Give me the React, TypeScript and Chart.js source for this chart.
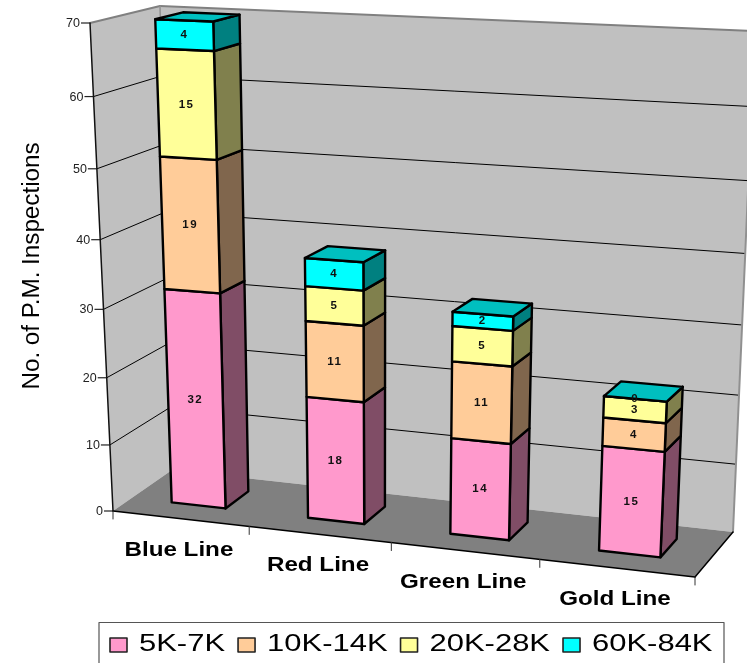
import React, { useEffect, useRef } from "react";
import { Chart, registerables } from "chart.js";

Chart.register(...registerables);

// ---- data ----
const categories = ["Blue Line", "Red Line", "Green Line", "Gold Line"];
const series5to7 = [32, 18, 14, 15];
const series10to14 = [19, 11, 11, 4];
const series20to28 = [15, 5, 5, 3];
const series60to84 = [4, 4, 2, 0];
const seriesNames = ["5K-7K", "10K-14K", "20K-28K", "60K-84K"];
const seriesColors = ["#FF99CC", "#FFCC99", "#FFFF99", "#00FFFF"];
const sideColors = ["#804D66", "#80664D", "#80804D", "#008080"];
const topColor = "#00BFBF";
const axisTitle = "No. of P.M. Inspections";

// ---- 3D box of the plot: corners on the screen ----
type Pt = [number, number];
const FRONT_BOTTOM_LEFT: Pt = [113, 511];
const FRONT_BOTTOM_RIGHT: Pt = [695, 577];
const BACK_BOTTOM_LEFT: Pt = [172, 470];
const BACK_BOTTOM_RIGHT: Pt = [733, 532];
const FRONT_TOP_LEFT: Pt = [90, 23];
const FRONT_TOP_RIGHT: Pt = [721, 47];
const BACK_TOP_LEFT: Pt = [160, 6];
const BACK_TOP_RIGHT: Pt = [755, 31];
const PERSPECTIVE_U = 1.091;
const PERSPECTIVE_V = 1.065;
const BAR_DEPTH_FRONT = 0.32;
const BAR_DEPTH_BACK = 0.73;

const warp = (t: number, k: number) => t / (t + k * (1 - t));
const mix = (a: Pt, b: Pt, t: number): Pt => [a[0] + (b[0] - a[0]) * t, a[1] + (b[1] - a[1]) * t];

function project(u: number, v: number, d: number): Pt {
  const uu = warp(u, PERSPECTIVE_U);
  const vv = warp(v, PERSPECTIVE_V);
  const bottom = mix(
    mix(FRONT_BOTTOM_LEFT, FRONT_BOTTOM_RIGHT, uu),
    mix(BACK_BOTTOM_LEFT, BACK_BOTTOM_RIGHT, uu),
    d
  );
  const top = mix(
    mix(FRONT_TOP_LEFT, FRONT_TOP_RIGHT, uu),
    mix(BACK_TOP_LEFT, BACK_TOP_RIGHT, uu),
    d
  );
  return mix(bottom, top, vv);
}

function poly(ctx: CanvasRenderingContext2D, pts: Pt[], fill: string | null, stroke: string | null, lw = 2.4) {
  ctx.beginPath();
  pts.forEach((p, i) => (i ? ctx.lineTo(p[0], p[1]) : ctx.moveTo(p[0], p[1])));
  ctx.closePath();
  if (fill) {
    ctx.fillStyle = fill;
    ctx.fill();
  }
  if (stroke) {
    ctx.strokeStyle = stroke;
    ctx.lineWidth = lw;
    ctx.lineJoin = "round";
    ctx.stroke();
  }
}

function line(ctx: CanvasRenderingContext2D, a: Pt, b: Pt, color: string, lw: number) {
  ctx.beginPath();
  ctx.moveTo(a[0], a[1]);
  ctx.lineTo(b[0], b[1]);
  ctx.strokeStyle = color;
  ctx.lineWidth = lw;
  ctx.stroke();
}

function stretchedText(
  ctx: CanvasRenderingContext2D,
  text: string,
  x: number,
  y: number,
  font: string,
  sx: number,
  align: CanvasTextAlign
) {
  ctx.save();
  ctx.font = font;
  ctx.fillStyle = "#000";
  ctx.textAlign = align;
  ctx.textBaseline = "middle";
  ctx.translate(x, y);
  ctx.scale(sx, 1);
  ctx.fillText(text, 0, 0);
  ctx.restore();
}

const box3dPlugin = {
  id: "box3d",
  beforeDatasetsDraw(chart: any) {
    const ctx: CanvasRenderingContext2D = chart.ctx;
    const area = chart.chartArea;
    const xs = chart.scales.x;
    const ys = chart.scales.y;
    const toU = (px: number) => (px - area.left) / (area.right - area.left);
    const toV = (py: number) => (area.bottom - py) / (area.bottom - area.top);

    ctx.save();
    // walls and floor
    poly(ctx, [project(0, 0, 0), project(0, 1, 0), project(0, 1, 1), project(0, 0, 1)], "#C0C0C0", null);
    poly(ctx, [project(0, 0, 1), project(0, 1, 1), project(1, 1, 1), project(1, 0, 1)], "#C0C0C0", null);
    poly(ctx, [project(0, 0, 0), project(1, 0, 0), project(1, 0, 1), project(0, 0, 1)], "#808080", null);

    // gridlines and value axis
    const yTicks = ys.ticks.map((t: any) => t.value);
    yTicks.forEach((value: number) => {
      const v = toV(ys.getPixelForValue(value));
      if (value > 0 && value < ys.max) {
        line(ctx, project(0, v, 0), project(0, v, 1), "#000", 1);
        line(ctx, project(0, v, 1), project(1, v, 1), "#000", 1);
      }
      const p = project(0, v, 0);
      line(ctx, [p[0] - 9, p[1]], p, "#222", 1.2);
      ctx.font = "12.5px 'Liberation Sans'";
      ctx.fillStyle = "#222";
      ctx.textAlign = "right";
      ctx.textBaseline = "middle";
      ctx.fillText(String(value), p[0] - 10, p[1] + 0.5);
    });

    // grey outline of the walls
    ctx.lineCap = "round";
    line(ctx, project(0, 1, 0), project(0, 1, 1), "#808080", 2);
    line(ctx, project(0, 1, 1), project(1, 1, 1), "#808080", 2);
    line(ctx, project(0, 1, 1), project(0, 0, 1), "#909090", 1.5);
    line(ctx, project(1, 1, 1), project(1, 0, 1), "#909090", 2);

    // axis edges
    line(ctx, project(0, 0, 0), project(0, 1, 0), "#111", 1.5);
    line(ctx, project(0, 0, 0), project(1, 0, 0), "#000", 1.5);
    line(ctx, project(1, 0, 0), project(1, 0, 1), "#000", 1.5);

    // category ticks and labels
    const step = xs.getPixelForValue(1) - xs.getPixelForValue(0);
    const first = xs.getPixelForValue(0) - step / 2;
    for (let i = 0; i <= categories.length; i++) {
      const p = project(toU(first + step * i), 0, 0);
      line(ctx, p, [p[0], p[1] + 8], "#333", 1);
    }
    categories.forEach((name, i) => {
      const p = project(toU(xs.getPixelForValue(i)), 0, 0);
      stretchedText(ctx, name, p[0] - 1.5, p[1] + 31.5, "bold 20px 'Liberation Sans'", 1.21, "center");
    });

    // stacked boxes, taken from the bar elements laid out by Chart.js
    const count = chart.data.datasets.length;
    categories.forEach((_, c) => {
      for (let s = 0; s < count; s++) {
        const el = chart.getDatasetMeta(s).data[c];
        const u0 = toU(el.x - el.width / 2);
        const u1 = toU(el.x + el.width / 2);
        const v0 = toV(el.base);
        const v1 = toV(el.y);
        const df = BAR_DEPTH_FRONT;
        const db = BAR_DEPTH_BACK;
        poly(ctx, [project(u1, v0, df), project(u1, v1, df), project(u1, v1, db), project(u1, v0, db)], sideColors[s], "#000");
        poly(ctx, [project(u0, v0, df), project(u1, v0, df), project(u1, v1, df), project(u0, v1, df)], seriesColors[s], "#000");
        if (s === count - 1) {
          poly(ctx, [project(u0, v1, df), project(u1, v1, df), project(u1, v1, db), project(u0, v1, db)], topColor, "#000");
        }
      }
      for (let s = 0; s < count; s++) {
        const el = chart.getDatasetMeta(s).data[c];
        const p = project(toU(el.x), (toV(el.base) + toV(el.y)) / 2, BAR_DEPTH_FRONT);
        ctx.font = "bold 11.5px 'Liberation Sans'";
        (ctx as any).letterSpacing = "1.5px";
        ctx.fillStyle = "#111";
        ctx.textAlign = "center";
        ctx.textBaseline = "middle";
        ctx.fillText(String(chart.data.datasets[s].data[c]), p[0], p[1]);
        (ctx as any).letterSpacing = "0px";
      }
    });

    // axis title
    ctx.save();
    ctx.translate(33, 266);
    ctx.rotate(-Math.PI / 2);
    ctx.scale(1.03, 1);
    ctx.font = "23.5px 'Liberation Sans'";
    ctx.fillStyle = "#000";
    ctx.textAlign = "center";
    ctx.textBaseline = "middle";
    ctx.fillText(axisTitle, 0, 0);
    ctx.restore();

    // legend
    ctx.strokeStyle = "#555";
    ctx.lineWidth = 1.2;
    ctx.strokeRect(99, 622.5, 625, 50);
    let x = 110;
    const font = "24px 'Liberation Sans'";
    chart.data.datasets.forEach((ds: any, s: number) => {
      poly(ctx, [[x, 638], [x + 17, 638], [x + 17, 652], [x, 652]], seriesColors[s], "#222", 1.6);
      ctx.font = font;
      const w = ctx.measureText(ds.label).width * 1.29;
      stretchedText(ctx, ds.label, x + 29, 644.5, font, 1.29, "left");
      x += 29 + w + 13;
    });
    ctx.restore();
    return false; // the marks are drawn above in 3D
  },
};

export default function App() {
  const ref = useRef<HTMLCanvasElement>(null);
  useEffect(() => {
    if (!ref.current) return;
    const values = [series5to7, series10to14, series20to28, series60to84];
    const chart = new Chart(ref.current, {
      type: "bar",
      data: {
        labels: categories,
        datasets: seriesNames.map((label, i) => ({
          label,
          data: values[i],
          backgroundColor: seriesColors[i],
          categoryPercentage: 1,
          barPercentage: 0.4,
        })),
      },
      options: {
        responsive: false,
        animation: false,
        plugins: { legend: { display: false }, tooltip: { enabled: false }, title: { display: false } },
        scales: {
          x: { stacked: true, display: false },
          y: { stacked: true, display: false, min: 0, max: 70, ticks: { stepSize: 10 } },
        },
      },
      plugins: [box3dPlugin],
    } as any);
    return () => chart.destroy();
  }, []);
  return (
    <div style={{ position: "absolute", left: 0, top: 0, width: 747, height: 663, overflow: "hidden", background: "#fff" }}>
      <canvas ref={ref} width={747} height={663} style={{ display: "block" }} />
    </div>
  );
}
